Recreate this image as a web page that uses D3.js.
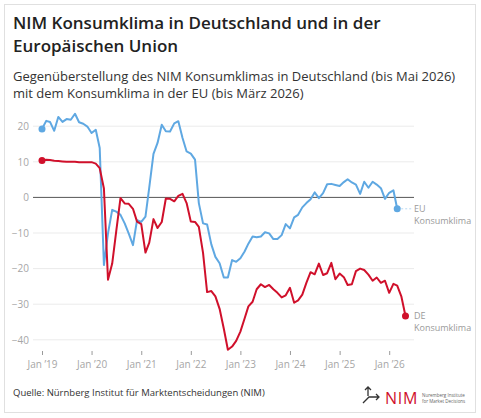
<!DOCTYPE html>
<html>
<head>
<meta charset="utf-8">
<script src="https://cdn.jsdelivr.net/npm/d3@7"></script>
<style>
  body { margin: 0; background: #fff; }
  svg { display: block; font-family: "Open Sans", sans-serif; }
</style>
</head>
<body>
<script>
// NIM Konsumklima Deutschland, Jan 2019 - Mai 2026
var deValues = [
  10.4, 10.6, 10.5, 10.3, 10.2, 10.1, 10.0, 10.0, 10.0, 9.9, 9.9, 9.9,
  9.9, 9.5, 8.2, 2.5, -23.1, -18.6, -9.4, -0.2, -1.7, -1.8, -3.2, -6.8,
  -7.5, -15.5, -12.7, -6.1, -8.6, -6.9, -0.3, -0.4, -1.1, 0.4, 1.0, -1.6,
  -6.8, -6.9, -8.3, -15.6, -26.6, -26.3, -27.8, -31.3, -36.9, -42.8, -41.9, -40.3,
  -37.7, -34.0, -30.6, -29.3, -25.8, -24.4, -25.2, -24.6, -25.8, -26.8, -28.1, -27.5,
  -25.4, -29.6, -28.9, -27.3, -24.0, -21.0, -21.6, -18.6, -21.8, -21.3, -18.4, -23.0,
  -21.4, -22.4, -24.6, -24.4, -20.7, -20.0, -20.4, -21.7, -23.4, -22.5, -24.0, -23.4,
  -26.8, -24.3, -24.8, -27.9, -33.3
];

// Konsumklima EU, Jan 2019 - Maerz 2026
var euValues = [
  19.2, 21.5, 21.2, 18.7, 22.6, 21.2, 22.0, 21.8, 23.5, 21.1, 20.7, 19.9,
  18.1, 19.0, 13.9, -19.0, -10.1, -3.5, -4.0, -4.9, -7.3, -10.2, -13.4, -6.4,
  -6.9, -5.4, 2.8, 12.2, 15.3, 20.4, 18.6, 18.5, 20.8, 21.4, 16.7, 12.9,
  12.3, 10.6, -1.6, -7.3, -7.6, -13.2, -16.7, -18.5, -22.5, -22.5, -17.6, -18.1,
  -17.1, -15.2, -13.0, -11.0, -11.2, -11.0, -9.8, -10.1, -11.7, -11.7, -10.6, -7.5,
  -8.7, -5.6, -4.9, -2.8, -1.6, -0.5, 1.4, -0.2, 1.2, 3.7, 3.8, 3.5,
  3.2, 4.3, 5.1, 4.2, 3.6, 1.0, 4.4, 2.7, 4.4, 3.6, 2.6, -0.4,
  1.3, 2.0, -3.2
];

var yTicks = [20, 10, 0, -10, -20, -30, -40];
var xTickYears = [2019, 2020, 2021, 2022, 2023, 2024, 2025, 2026];

var titleLines = ["NIM Konsumklima in Deutschland und in der", "Europäischen Union"];
var subtitleLines = ["Gegenüberstellung des NIM Konsumklimas in Deutschland (bis Mai 2026)",
                     "mit dem Konsumklima in der EU (bis März 2026)"];
var sourceText = "Quelle: Nürnberg Institut für Marktentscheidungen (NIM)";

var blue = "#5fa8e2";
var red = "#d0102b";

var W = 481, H = 418;
var svg = d3.select("body").append("svg").attr("width", W).attr("height", H);

// card
svg.append("rect")
  .attr("x", 4.5).attr("y", 4.5)
  .attr("width", 471).attr("height", 408)
  .attr("fill", "#fff")
  .attr("stroke", "#e0e0e0");

// titles
var title = svg.append("text")
  .attr("x", 13)
  .style("font-size", "17px")
  .style("font-weight", 600)
  .style("fill", "#222");
title.selectAll("tspan").data(titleLines).enter().append("tspan")
  .attr("x", 13)
  .attr("y", function(d, i){ return 29 + i*23; })
  .text(function(d){ return d; });

var sub = svg.append("text")
  .style("font-size", "13px")
  .style("fill", "#333");
sub.selectAll("tspan").data(subtitleLines).enter().append("tspan")
  .attr("x", 13)
  .attr("y", function(d, i){ return 81 + i*17; })
  .text(function(d){ return d; });

// scales
var month = function(i){ return new Date(2019, i, 1); };
var x = d3.scaleTime()
  .domain([new Date(2019, 0, 1), new Date(2026, 0, 1)])
  .range([42, 389.2]);
var y = d3.scaleLinear()
  .domain([-40, 20])
  .range([339.8, 126.2]);

var gridLeft = 33, gridRight = 414;

// grid
svg.append("g").selectAll("line")
  .data(yTicks.filter(function(d){ return d !== 0; }))
  .enter().append("line")
  .attr("x1", gridLeft).attr("x2", gridRight)
  .attr("y1", function(d){ return y(d); })
  .attr("y2", function(d){ return y(d); })
  .attr("stroke", "#ebebeb")
  .attr("stroke-width", 1);

// y axis labels
var yAxis = d3.axisLeft(y)
  .tickValues(yTicks)
  .tickSize(0)
  .tickPadding(0)
  .tickFormat(function(d){ return d < 0 ? "\u2212" + Math.abs(d) : d; });
var gy = svg.append("g").attr("transform", "translate(29,0)").call(yAxis);
gy.select(".domain").remove();
gy.selectAll("text")
  .style("font-family", "Open Sans, sans-serif")
  .style("font-size", "10px")
  .style("fill", "#a6a6a6");

// zero line
svg.append("line")
  .attr("x1", gridLeft).attr("x2", gridRight)
  .attr("y1", y(0)).attr("y2", y(0))
  .attr("stroke", "#555")
  .attr("stroke-width", 1);

// x axis
var xAxis = d3.axisBottom(x)
  .tickValues(xTickYears.map(function(yr){ return new Date(yr, 0, 1); }))
  .tickSize(4)
  .tickPadding(6)
  .tickFormat(function(d){ return "Jan \u2019" + String(d.getFullYear()).slice(2); });
var gx = svg.append("g").attr("transform", "translate(0,351)").call(xAxis);
gx.select(".domain").remove();
gx.selectAll("line").attr("stroke", "#9a9a9a");
gx.selectAll("text")
  .style("font-family", "Open Sans, sans-serif")
  .style("font-size", "10px")
  .style("fill", "#a6a6a6");

// lines
var line = d3.line()
  .x(function(d, i){ return x(month(i)); })
  .y(function(d){ return y(d); });

svg.append("path")
  .datum(euValues)
  .attr("d", line)
  .attr("fill", "none")
  .attr("stroke", blue)
  .attr("stroke-width", 2)
  .attr("stroke-linejoin", "round");

svg.append("path")
  .datum(deValues)
  .attr("d", line)
  .attr("fill", "none")
  .attr("stroke", red)
  .attr("stroke-width", 2)
  .attr("stroke-linejoin", "round");

// dots at start and end
var dots = [
  {v: euValues, i: 0, c: blue},
  {v: euValues, i: euValues.length - 1, c: blue},
  {v: deValues, i: 0, c: red},
  {v: deValues, i: deValues.length - 1, c: red}
];
svg.append("g").selectAll("circle").data(dots).enter().append("circle")
  .attr("cx", function(d){ return x(month(d.i)); })
  .attr("cy", function(d){ return y(d.v[d.i]); })
  .attr("r", 3.5)
  .attr("fill", function(d){ return d.c; });

// end labels
var euLast = euValues.length - 1, deLast = deValues.length - 1;
svg.append("line")
  .attr("x1", x(month(euLast)) + 4).attr("x2", 412)
  .attr("y1", y(euValues[euLast])).attr("y2", y(euValues[euLast]))
  .attr("stroke", "#b8d8f2")
  .attr("stroke-dasharray", "2,2");

var endLabels = [
  {name: "EU", v: euValues[euLast]},
  {name: "DE", v: deValues[deLast]}
];
endLabels.forEach(function(l){
  var t = svg.append("text")
    .style("font-size", "9px")
    .style("fill", "#9a9a9a");
  t.append("tspan").attr("x", 414).attr("y", y(l.v) + 3.5).text(l.name);
  t.append("tspan").attr("x", 414).attr("y", y(l.v) + 15).text("Konsumklima");
});

// source
svg.append("text")
  .attr("x", 13).attr("y", 396)
  .style("font-size", "9.5px")
  .style("fill", "#333")
  .text(sourceText);

// logo
var logo = svg.append("g");
logo.append("path")
  .attr("d", "M368,396 V387 M365,390 L368,387 L371,390 M363,403 L369,397 H379 M376,394 L379,397 L376,400")
  .attr("fill", "none")
  .attr("stroke", "#333")
  .attr("stroke-width", 1.3);
logo.append("text")
  .attr("x", 385).attr("y", 404)
  .style("font-size", "16px")
  .style("letter-spacing", "0.8px")
  .style("fill", red)
  .text("NIM");
var small = logo.append("text")
  .style("font-size", "4.5px")
  .style("fill", "#666");
small.append("tspan").attr("x", 422).attr("y", 397).text("Nuremberg Institute");
small.append("tspan").attr("x", 422).attr("y", 403).text("for Market Decisions");
</script>
</body>
</html>
